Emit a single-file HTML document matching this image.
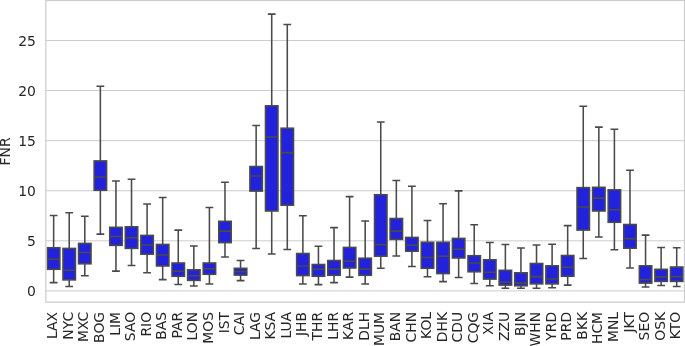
<!DOCTYPE html>
<html><head><meta charset="utf-8"><title>FNR boxplot</title>
<style>html,body{margin:0;padding:0;background:#fff}svg{display:block}text{font-family:"DejaVu Sans","Liberation Sans",sans-serif;font-size:13.9px;fill:#262626}</style></head><body>
<svg width="685" height="346" viewBox="0 0 685 346">
<rect x="0" y="0" width="685" height="346" fill="#ffffff"/>
<g stroke="#cccccc" stroke-width="1" fill="none">
<line x1="45.85" y1="290.9" x2="684.5" y2="290.9"/>
<line x1="45.85" y1="240.82" x2="684.5" y2="240.82"/>
<line x1="45.85" y1="190.73999999999998" x2="684.5" y2="190.73999999999998"/>
<line x1="45.85" y1="140.65999999999997" x2="684.5" y2="140.65999999999997"/>
<line x1="45.85" y1="90.57999999999998" x2="684.5" y2="90.57999999999998"/>
<line x1="45.85" y1="40.49999999999997" x2="684.5" y2="40.49999999999997"/>
</g>
<g stroke="#4a4a4a" stroke-width="1.55" fill="#2222dd" stroke-linecap="butt">
<rect x="47.41" y="247.70" width="12.46" height="21.60"/>
<path d="M53.64 247.70V215.50M53.64 269.30V282.60M47.41 259.20H59.87"/>
<path stroke-linecap="square" d="M50.52 215.50H56.75M50.52 282.60H56.75"/>
<rect x="62.98" y="248.40" width="12.46" height="31.50"/>
<path d="M69.22 248.40V212.70M69.22 279.90V286.40M62.98 270.30H75.45"/>
<path stroke-linecap="square" d="M66.10 212.70H72.33M66.10 286.40H72.33"/>
<rect x="78.56" y="243.40" width="12.46" height="20.40"/>
<path d="M84.79 243.40V216.30M84.79 263.80V275.80M78.56 252.50H91.02"/>
<path stroke-linecap="square" d="M81.68 216.30H87.91M81.68 275.80H87.91"/>
<rect x="94.14" y="160.90" width="12.46" height="29.40"/>
<path d="M100.37 160.90V86.20M100.37 190.30V234.10M94.14 177.00H106.60"/>
<path stroke-linecap="square" d="M97.25 86.20H103.48M97.25 234.10H103.48"/>
<rect x="109.71" y="227.30" width="12.46" height="18.10"/>
<path d="M115.95 227.30V181.00M115.95 245.40V271.10M109.71 236.40H122.18"/>
<path stroke-linecap="square" d="M112.83 181.00H119.06M112.83 271.10H119.06"/>
<rect x="125.29" y="226.80" width="12.46" height="21.60"/>
<path d="M131.52 226.80V179.30M131.52 248.40V265.50M125.29 237.60H137.75"/>
<path stroke-linecap="square" d="M128.41 179.30H134.64M128.41 265.50H134.64"/>
<rect x="140.87" y="235.40" width="12.46" height="18.80"/>
<path d="M147.10 235.40V203.90M147.10 254.20V272.80M140.87 244.90H153.33"/>
<path stroke-linecap="square" d="M143.98 203.90H150.21M143.98 272.80H150.21"/>
<rect x="156.45" y="244.40" width="12.46" height="21.60"/>
<path d="M162.68 244.40V197.40M162.68 266.00V279.60M156.45 255.00H168.91"/>
<path stroke-linecap="square" d="M159.56 197.40H165.79M159.56 279.60H165.79"/>
<rect x="172.02" y="263.00" width="12.46" height="13.30"/>
<path d="M178.25 263.00V230.10M178.25 276.30V284.40M172.02 271.30H184.48"/>
<path stroke-linecap="square" d="M175.14 230.10H181.37M175.14 284.40H181.37"/>
<rect x="187.60" y="269.80" width="12.46" height="10.60"/>
<path d="M193.83 269.80V245.90M193.83 280.40V285.90M187.60 275.80H200.06"/>
<path stroke-linecap="square" d="M190.71 245.90H196.95M190.71 285.90H196.95"/>
<rect x="203.18" y="263.00" width="12.46" height="11.30"/>
<path d="M209.41 263.00V207.40M209.41 274.30V283.90M203.18 268.80H215.64"/>
<path stroke-linecap="square" d="M206.29 207.40H212.52M206.29 283.90H212.52"/>
<rect x="218.75" y="221.30" width="12.46" height="21.35"/>
<path d="M224.98 221.30V182.30M224.98 242.65V257.00M218.75 231.10H231.21"/>
<path stroke-linecap="square" d="M221.87 182.30H228.10M221.87 257.00H228.10"/>
<rect x="234.33" y="268.30" width="12.46" height="6.80"/>
<path d="M240.56 268.30V260.50M240.56 275.10V280.60M234.33 271.60H246.79"/>
<path stroke-linecap="square" d="M237.44 260.50H243.68M237.44 280.60H243.68"/>
<rect x="249.91" y="166.50" width="12.46" height="24.60"/>
<path d="M256.14 166.50V125.50M256.14 191.10V248.40M249.91 176.00H262.37"/>
<path stroke-linecap="square" d="M253.02 125.50H259.25M253.02 248.40H259.25"/>
<rect x="265.48" y="105.80" width="12.46" height="105.20"/>
<path d="M271.71 105.80V14.10M271.71 211.00V254.00M265.48 137.00H277.94"/>
<path stroke-linecap="square" d="M268.60 14.10H274.83M268.60 254.00H274.83"/>
<rect x="281.06" y="128.20" width="12.46" height="77.00"/>
<path d="M287.29 128.20V24.40M287.29 205.20V249.40M281.06 152.60H293.52"/>
<path stroke-linecap="square" d="M284.18 24.40H290.41M284.18 249.40H290.41"/>
<rect x="296.64" y="253.50" width="12.46" height="22.10"/>
<path d="M302.87 253.50V215.70M302.87 275.60V283.90M296.64 266.00H309.10"/>
<path stroke-linecap="square" d="M299.75 215.70H305.98M299.75 283.90H305.98"/>
<rect x="312.21" y="264.50" width="12.46" height="11.80"/>
<path d="M318.44 264.50V246.20M318.44 276.30V284.60M312.21 269.30H324.68"/>
<path stroke-linecap="square" d="M315.33 246.20H321.56M315.33 284.60H321.56"/>
<rect x="327.79" y="260.50" width="12.46" height="14.80"/>
<path d="M334.02 260.50V227.60M334.02 275.30V282.60M327.79 269.30H340.25"/>
<path stroke-linecap="square" d="M330.91 227.60H337.14M330.91 282.60H337.14"/>
<rect x="343.37" y="247.40" width="12.46" height="20.60"/>
<path d="M349.60 247.40V196.60M349.60 268.00V277.10M343.37 261.30H355.83"/>
<path stroke-linecap="square" d="M346.48 196.60H352.71M346.48 277.10H352.71"/>
<rect x="358.94" y="258.20" width="12.46" height="17.10"/>
<path d="M365.18 258.20V221.00M365.18 275.30V283.90M358.94 269.30H371.41"/>
<path stroke-linecap="square" d="M362.06 221.00H368.29M362.06 283.90H368.29"/>
<rect x="374.52" y="194.70" width="12.46" height="61.50"/>
<path d="M380.75 194.70V121.90M380.75 256.20V268.30M374.52 244.60H386.98"/>
<path stroke-linecap="square" d="M377.64 121.90H383.87M377.64 268.30H383.87"/>
<rect x="390.10" y="218.50" width="12.46" height="20.90"/>
<path d="M396.33 218.50V180.50M396.33 239.40V256.00M390.10 231.10H402.56"/>
<path stroke-linecap="square" d="M393.21 180.50H399.44M393.21 256.00H399.44"/>
<rect x="405.67" y="237.40" width="12.46" height="13.80"/>
<path d="M411.91 237.40V186.30M411.91 251.20V266.50M405.67 245.20H418.14"/>
<path stroke-linecap="square" d="M408.79 186.30H415.02M408.79 266.50H415.02"/>
<rect x="421.25" y="242.20" width="12.46" height="26.10"/>
<path d="M427.48 242.20V220.50M427.48 268.30V276.80M421.25 257.50H433.71"/>
<path stroke-linecap="square" d="M424.37 220.50H430.60M424.37 276.80H430.60"/>
<rect x="436.83" y="242.20" width="12.46" height="31.40"/>
<path d="M443.06 242.20V203.70M443.06 273.60V281.60M436.83 256.20H449.29"/>
<path stroke-linecap="square" d="M439.94 203.70H446.17M439.94 281.60H446.17"/>
<rect x="452.41" y="238.40" width="12.46" height="19.60"/>
<path d="M458.64 238.40V190.85M458.64 258.00V277.40M452.41 249.20H464.87"/>
<path stroke-linecap="square" d="M455.52 190.85H461.75M455.52 277.40H461.75"/>
<rect x="467.98" y="255.70" width="12.46" height="16.10"/>
<path d="M474.21 255.70V224.80M474.21 271.80V283.40M467.98 263.00H480.44"/>
<path stroke-linecap="square" d="M471.10 224.80H477.33M471.10 283.40H477.33"/>
<rect x="483.56" y="259.75" width="12.46" height="19.35"/>
<path d="M489.79 259.75V242.40M489.79 279.10V285.65M483.56 272.30H496.02"/>
<path stroke-linecap="square" d="M486.67 242.40H492.91M486.67 285.65H492.91"/>
<rect x="499.14" y="270.30" width="12.46" height="14.80"/>
<path d="M505.37 270.30V244.40M505.37 285.10V288.20M499.14 282.10H511.60"/>
<path stroke-linecap="square" d="M502.25 244.40H508.48M502.25 288.20H508.48"/>
<rect x="514.71" y="272.80" width="12.46" height="13.00"/>
<path d="M520.94 272.80V247.90M520.94 285.80V288.20M514.71 283.10H527.17"/>
<path stroke-linecap="square" d="M517.83 247.90H524.06M517.83 288.20H524.06"/>
<rect x="530.29" y="263.50" width="12.46" height="20.40"/>
<path d="M536.52 263.50V244.90M536.52 283.90V288.20M530.29 276.60H542.75"/>
<path stroke-linecap="square" d="M533.40 244.90H539.64M533.40 288.20H539.64"/>
<rect x="545.87" y="265.80" width="12.46" height="18.10"/>
<path d="M552.10 265.80V244.20M552.10 283.90V287.70M545.87 278.90H558.33"/>
<path stroke-linecap="square" d="M548.98 244.20H555.21M548.98 287.70H555.21"/>
<rect x="561.44" y="255.50" width="12.46" height="20.80"/>
<path d="M567.67 255.50V225.60M567.67 276.30V285.10M561.44 267.30H573.90"/>
<path stroke-linecap="square" d="M564.56 225.60H570.79M564.56 285.10H570.79"/>
<rect x="577.02" y="187.60" width="12.46" height="42.50"/>
<path d="M583.25 187.60V106.30M583.25 230.10V258.50M577.02 206.90H589.48"/>
<path stroke-linecap="square" d="M580.14 106.30H586.37M580.14 258.50H586.37"/>
<rect x="592.60" y="187.30" width="12.46" height="23.70"/>
<path d="M598.83 187.30V127.10M598.83 211.00V236.90M592.60 198.10H605.06"/>
<path stroke-linecap="square" d="M595.71 127.10H601.94M595.71 236.90H601.94"/>
<rect x="608.17" y="189.80" width="12.46" height="32.50"/>
<path d="M614.40 189.80V129.15M614.40 222.30V249.70M608.17 209.70H620.63"/>
<path stroke-linecap="square" d="M611.29 129.15H617.52M611.29 249.70H617.52"/>
<rect x="623.75" y="224.50" width="12.46" height="23.70"/>
<path d="M629.98 224.50V170.20M629.98 248.20V268.00M623.75 238.60H636.21"/>
<path stroke-linecap="square" d="M626.87 170.20H633.10M626.87 268.00H633.10"/>
<rect x="639.33" y="265.80" width="12.46" height="17.30"/>
<path d="M645.56 265.80V235.10M645.56 283.10V286.90M639.33 279.40H651.79"/>
<path stroke-linecap="square" d="M642.44 235.10H648.67M642.44 286.90H648.67"/>
<rect x="654.90" y="269.30" width="12.46" height="12.10"/>
<path d="M661.13 269.30V247.40M661.13 281.40V285.40M654.90 276.85H667.37"/>
<path stroke-linecap="square" d="M658.02 247.40H664.25M658.02 285.40H664.25"/>
<rect x="670.48" y="267.00" width="12.46" height="14.40"/>
<path d="M676.71 267.00V247.70M676.71 281.40V286.40M670.48 276.60H682.94"/>
<path stroke-linecap="square" d="M673.60 247.70H679.83M673.60 286.40H679.83"/>
</g>
<rect x="45.85" y="0.5" width="638.65" height="301.7" fill="none" stroke="#cccccc" stroke-width="1.25"/>
<text x="35.9" y="296.10" text-anchor="end">0</text>
<text x="35.9" y="246.02" text-anchor="end">5</text>
<text x="35.9" y="195.94" text-anchor="end">10</text>
<text x="35.9" y="145.86" text-anchor="end">15</text>
<text x="35.9" y="95.78" text-anchor="end">20</text>
<text x="35.9" y="45.70" text-anchor="end">25</text>
<text transform="translate(10.2,151.4) rotate(-90)" text-anchor="middle">FNR</text>
<text transform="translate(57.24,311.9) rotate(-90)" text-anchor="end">LAX</text>
<text transform="translate(72.82,311.9) rotate(-90)" text-anchor="end">NYC</text>
<text transform="translate(88.39,311.9) rotate(-90)" text-anchor="end">MXC</text>
<text transform="translate(103.97,311.9) rotate(-90)" text-anchor="end">BOG</text>
<text transform="translate(119.55,311.9) rotate(-90)" text-anchor="end">LIM</text>
<text transform="translate(135.12,311.9) rotate(-90)" text-anchor="end">SAO</text>
<text transform="translate(150.70,311.9) rotate(-90)" text-anchor="end">RIO</text>
<text transform="translate(166.28,311.9) rotate(-90)" text-anchor="end">BAS</text>
<text transform="translate(181.85,311.9) rotate(-90)" text-anchor="end">PAR</text>
<text transform="translate(197.43,311.9) rotate(-90)" text-anchor="end">LON</text>
<text transform="translate(213.01,311.9) rotate(-90)" text-anchor="end">MOS</text>
<text transform="translate(228.58,311.9) rotate(-90)" text-anchor="end">IST</text>
<text transform="translate(244.16,311.9) rotate(-90)" text-anchor="end">CAI</text>
<text transform="translate(259.74,311.9) rotate(-90)" text-anchor="end">LAG</text>
<text transform="translate(275.31,311.9) rotate(-90)" text-anchor="end">KSA</text>
<text transform="translate(290.89,311.9) rotate(-90)" text-anchor="end">LUA</text>
<text transform="translate(306.47,311.9) rotate(-90)" text-anchor="end">JHB</text>
<text transform="translate(322.04,311.9) rotate(-90)" text-anchor="end">THR</text>
<text transform="translate(337.62,311.9) rotate(-90)" text-anchor="end">LHR</text>
<text transform="translate(353.20,311.9) rotate(-90)" text-anchor="end">KAR</text>
<text transform="translate(368.78,311.9) rotate(-90)" text-anchor="end">DLH</text>
<text transform="translate(384.35,311.9) rotate(-90)" text-anchor="end">MUM</text>
<text transform="translate(399.93,311.9) rotate(-90)" text-anchor="end">BAN</text>
<text transform="translate(415.51,311.9) rotate(-90)" text-anchor="end">CHN</text>
<text transform="translate(431.08,311.9) rotate(-90)" text-anchor="end">KOL</text>
<text transform="translate(446.66,311.9) rotate(-90)" text-anchor="end">DHK</text>
<text transform="translate(462.24,311.9) rotate(-90)" text-anchor="end">CDU</text>
<text transform="translate(477.81,311.9) rotate(-90)" text-anchor="end">CQG</text>
<text transform="translate(493.39,311.9) rotate(-90)" text-anchor="end">XIA</text>
<text transform="translate(508.97,311.9) rotate(-90)" text-anchor="end">ZZU</text>
<text transform="translate(524.54,311.9) rotate(-90)" text-anchor="end">BJN</text>
<text transform="translate(540.12,311.9) rotate(-90)" text-anchor="end">WHN</text>
<text transform="translate(555.70,311.9) rotate(-90)" text-anchor="end">YRD</text>
<text transform="translate(571.27,311.9) rotate(-90)" text-anchor="end">PRD</text>
<text transform="translate(586.85,311.9) rotate(-90)" text-anchor="end">BKK</text>
<text transform="translate(602.43,311.9) rotate(-90)" text-anchor="end">HCM</text>
<text transform="translate(618.00,311.9) rotate(-90)" text-anchor="end">MNL</text>
<text transform="translate(633.58,311.9) rotate(-90)" text-anchor="end">JKT</text>
<text transform="translate(649.16,311.9) rotate(-90)" text-anchor="end">SEO</text>
<text transform="translate(664.73,311.9) rotate(-90)" text-anchor="end">OSK</text>
<text transform="translate(680.31,311.9) rotate(-90)" text-anchor="end">KTO</text>
</svg></body></html>
